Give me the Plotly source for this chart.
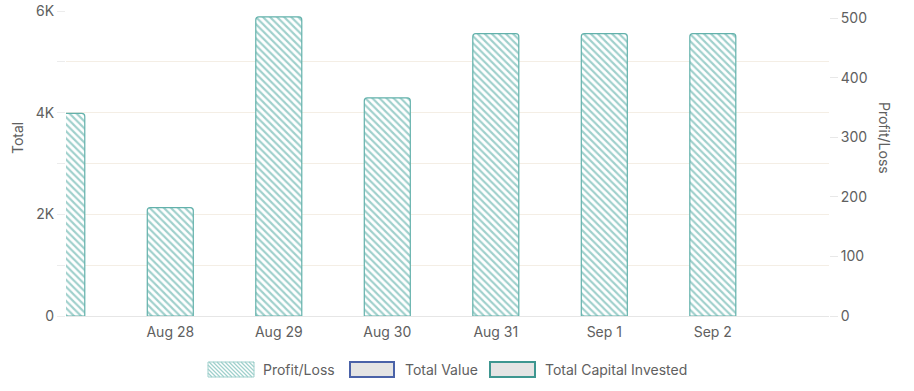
import plotly.graph_objects as go

# ---- data ----
dates = ["2024-08-27", "2024-08-28", "2024-08-29", "2024-08-30",
         "2024-08-31", "2024-09-01", "2024-09-02"]
profit_loss = [340, 182, 502, 366, 474, 474, 474]
total_value = [None] * 7
total_capital = [None] * 7
left_tickvals = [0, 2000, 4000, 6000]
left_ticktext = ["0", "2K", "4K", "6K"]
right_tickvals = [0, 100, 200, 300, 400, 500]

FONT = "Inter"
TXT = "#606060"
GRID = "#f4eee5"
TEAL_LIGHT = "#9fd0cc"
TEAL_EDGE = "#62b1ab"

W, H = 914, 391
L, R, T, B = 66, 85, 11, 75
PW, PH = W - L - R, H - T - B
Y_MAX = 6000


def fx(p):
    return (p - L) / PW


def fy(p):
    return (H - B - p) / PH


fig = go.Figure()

fig.add_trace(go.Bar(
    x=dates, y=profit_loss, name="Profit/Loss", yaxis="y2",
    width=0.424 * 86400000,
    marker=dict(
        color=TEAL_LIGHT,
        line=dict(color=TEAL_EDGE, width=1.2),
        cornerradius=3,
        pattern=dict(shape="\\", fgcolor=TEAL_LIGHT, bgcolor="white",
                     size=5, solidity=0.42, fillmode="replace"),
    ),
    showlegend=False,
))
fig.add_trace(go.Scatter(x=dates, y=total_value, name="Total Value",
                         mode="lines", line=dict(color="#4a62a8"),
                         showlegend=False))
fig.add_trace(go.Scatter(x=dates, y=total_capital, name="Total Capital Invested",
                         mode="lines", line=dict(color="#3e9690"),
                         showlegend=False))

# ---- custom legend ----
shapes = []
annotations = []
ly0, ly1 = 362, 377
items = [
    ("Profit/Loss", 208, 254, 261, "hatch", TEAL_LIGHT),
    ("Total Value", 350, 394, 403, "#e4e4e4", "#4a62a8"),
    ("Total Capital Invested", 490, 535, 543, "#e4e4e4", "#3e9690"),
]
for name, x0, x1, tx, fill, edge in items:
    if fill == "hatch":
        shapes.append(dict(type="rect", xref="paper", yref="paper",
                           x0=fx(x0), x1=fx(x1), y0=fy(ly1), y1=fy(ly0),
                           fillcolor="white", line=dict(color=edge, width=1)))
        h = ly1 - ly0
        s = x0 - h
        while s < x1:
            ts = max(0, x0 - s)
            te = min(h, x1 - s)
            if te > ts:
                shapes.append(dict(type="line", xref="paper", yref="paper",
                                   x0=fx(s + ts), y0=fy(ly0 + ts),
                                   x1=fx(s + te), y1=fy(ly0 + te),
                                   line=dict(color=TEAL_LIGHT, width=1.2)))
            s += 4
    else:
        shapes.append(dict(type="rect", xref="paper", yref="paper",
                           x0=fx(x0), x1=fx(x1), y0=fy(ly1), y1=fy(ly0),
                           fillcolor=fill, line=dict(color=edge, width=2)))
    annotations.append(dict(text=name, xref="paper", yref="paper",
                            x=fx(tx), y=fy((ly0 + ly1) / 2),
                            xanchor="left", yanchor="middle", showarrow=False,
                            font=dict(family=FONT, size=14, color=TXT)))

# axis titles
annotations.append(dict(text="Total", xref="paper", yref="paper",
                        x=fx(17), y=fy(138), textangle=-90, showarrow=False,
                        xanchor="center", yanchor="middle",
                        font=dict(family=FONT, size=14, color=TXT)))
annotations.append(dict(text="Profit/Loss", xref="paper", yref="paper",
                        x=fx(885), y=fy(138), textangle=90, showarrow=False,
                        xanchor="center", yanchor="middle",
                        font=dict(family=FONT, size=14, color=TXT)))

fig.update_layout(
    width=W, height=H,
    margin=dict(l=L, r=R, t=T, b=B, pad=0, autoexpand=False),
    paper_bgcolor="white", plot_bgcolor="white",
    barmode="overlay",
    font=dict(family=FONT, size=14, color=TXT),
    shapes=shapes, annotations=annotations,
    xaxis=dict(
        type="date", automargin=False,
        range=["2024-08-27 00:56", "2024-09-03 01:42"],
        tickmode="array", tickvals=dates,
        tickformat="%b %-d", ticks="", showgrid=False,
        showline=False, zeroline=False,
        ticklabelstandoff=6,
        tickfont=dict(family=FONT, size=14, color=TXT),
    ),
    yaxis=dict(
        automargin=False,
        range=[0, Y_MAX], tickvals=left_tickvals, ticktext=left_ticktext,
        showgrid=True, gridcolor=GRID, gridwidth=1,
        ticks="outside", ticklen=8, tickcolor="#ececec",
        minor=dict(dtick=1000, showgrid=True, gridcolor=GRID,
                   ticks="outside", ticklen=8, tickcolor="#ececec"),
        zeroline=True, zerolinecolor="#e6e6e6", zerolinewidth=1,
        showline=False,
        tickfont=dict(family=FONT, size=14, color=TXT),
    ),
    yaxis2=dict(
        automargin=False,
        range=[0, 512], tickvals=right_tickvals, overlaying="y", side="right",
        showgrid=False, zeroline=False, showline=False,
        ticks="outside", ticklen=8, tickcolor="#e8e8e8",
        tickfont=dict(family=FONT, size=14, color=TXT),
    ),
)

fig.write_html(
    "out.html",
    config={"displayModeBar": False},
    post_script="document.body.style.margin='0';document.body.style.overflow='hidden';",
)
